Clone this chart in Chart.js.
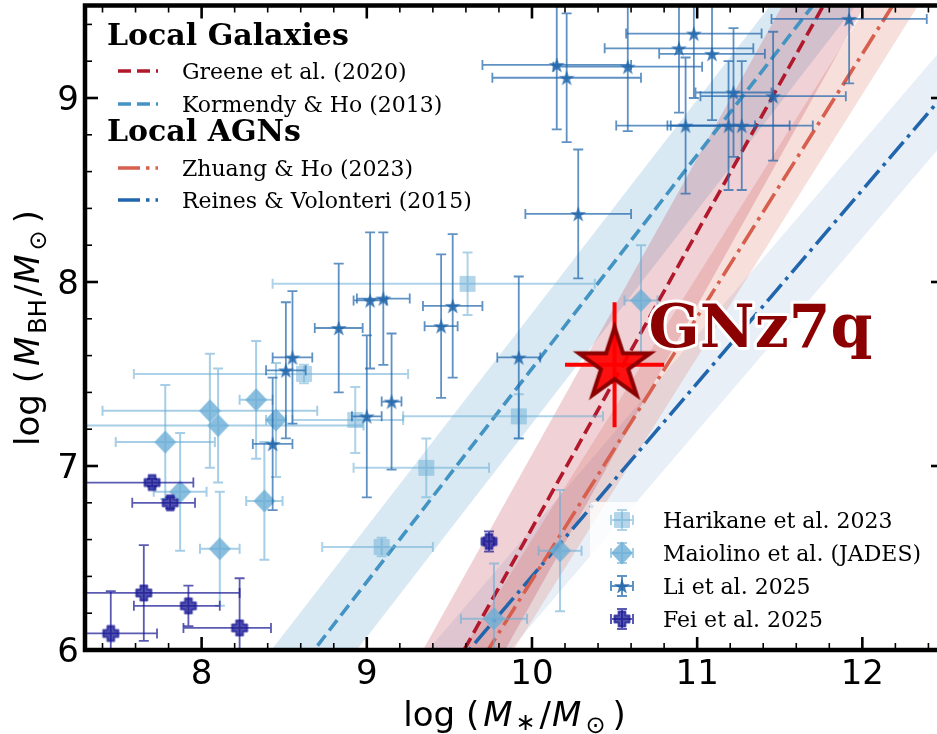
<!DOCTYPE html>
<html>
<head>
<meta charset="utf-8">
<script src="https://cdn.jsdelivr.net/npm/chart.js@4.4.1/dist/chart.umd.min.js"></script>
<style>
  html, body { margin: 0; padding: 0; background: #fff; }
  #wrap { width: 937px; height: 734px; position: relative; }
</style>
</head>
<body>
<div id="wrap"><canvas id="c"></canvas></div>
<script>
// axis ranges and ticks
const xRange = [7.294, 12.452];
const yRange = [6, 9.5];
const xTicks = [8, 9, 10, 11, 12];
const yTicks = [6, 7, 8, 9];

// local scaling relations: log MBH = a + b * (log M* - pivot), shaded +/- width
const relLabels = ['Greene et al. (2020)', 'Kormendy & Ho (2013)', 'Zhuang & Ho (2023)', 'Reines & Volonteri (2015)'];
const relA = [7.43, 8.69, 6.38, 7.45];
const relB = [1.61, 1.16, 1.43, 1.05];
const relPivot = [10.477, 11, 10, 11];
const relWidth = [0.40, 0.30, 0.22, 0.26];

// Harikane et al. 2023 (asymmetric x errors as [lo, hi])
const harikaneX = [9.61, 8.62, 8.93, 9.36, 9.09, 9.92];
const harikaneY = [7.99, 7.50, 7.25, 6.99, 6.56, 7.27];
const harikaneXErr = [[1.18, 0.77], [1.03, 0.63], [0.38, 0.29], [0.44, 0.38], [0.36, 0.31], [0.70, 0.51]];
const harikaneYErr = [0.17, 0.05, 0.18, 0.16, 0.05, 0.12];

// Maiolino et al. (JADES)
const maiolinoX = [7.78, 8.05, 8.10, 8.33, 8.45, 7.87, 8.38, 8.11, 10.66, 10.17, 9.77];
const maiolinoY = [7.13, 7.30, 7.22, 7.36, 7.25, 6.86, 6.81, 6.55, 7.90, 6.54, 6.17];
const maiolinoXErr = [0.30, 0.65, 0.88, 0.10, 0.06, 0.16, 0.11, 0.12, 0.10, 0.13, 0.20];
const maiolinoYErr = [0.31, 0.31, 0.31, 0.32, 0.31, 0.32, 0.32, 0.31, 0.30, 0.33, 0.30];

// Li et al. 2025
const liX = [8.43, 8.51, 8.55, 8.83, 9.02, 9.10, 9.00, 9.15, 9.45, 9.52, 9.92, 10.28,
             10.15, 10.21, 10.58, 10.89, 10.98, 11.09, 11.22, 11.46, 10.93, 11.19, 11.27, 11.92];
const liY = [7.12, 7.52, 7.59, 7.75, 7.90, 7.91, 7.27, 7.35, 7.76, 7.87, 7.59, 8.37,
             9.18, 9.11, 9.17, 9.27, 9.35, 9.24, 9.03, 9.01, 8.85, 8.85, 8.85, 9.43];
const liXErr = [0.12, 0.12, 0.12, 0.145, 0.10, 0.16, 0.09, 0.06, 0.10, 0.18, 0.13, 0.32,
                0.45, 0.45, 0.45, 0.45, 0.41, 0.32, 0.23, 0.44, 0.42, 0.37, 0.43, 0.47];
const liYErr = [0.36, 0.37, 0.36, 0.35, 0.37, 0.36, 0.44, 0.37, 0.39, 0.39, 0.44, 0.35,
                0.35, 0.35, 0.35, 0.35, 0.35, 0.36, 0.35, 0.35, 0.37, 0.35, 0.35, 0.35];

// Fei et al. 2025
const feiX = [7.70, 7.81, 7.65, 7.45, 7.92, 8.23, 9.74];
const feiY = [6.91, 6.80, 6.31, 6.09, 6.24, 6.12, 6.59];
const feiXErr = [[0.45, 0.25], [0.23, 0.15], [0.58, 0.58], [0.28, 0.28], [0.33, 0.19], [0.34, 0.19], [0.03, 0.03]];
const feiYErr = [0.02, 0.03, 0.26, 0.23, 0.11, 0.27, 0.055];

// GNz7q
const gnzX = [10.5];
const gnzY = [7.55];
const gnzXErr = [0.30];
const gnzYErr = [0.34];

const seriesLabels = ['Harikane et al. 2023', 'Maiolino et al. (JADES)', 'Li et al. 2025', 'Fei et al. 2025'];

// ---- styles ----
const relColor = ['#b2182b', '#4393c3', '#d6604d', '#2166ac'];
const relBand = ['rgba(178,24,43,0.2)', 'rgba(67,147,195,0.2)', 'rgba(214,96,77,0.2)', 'rgba(33,102,172,0.1)'];
const relDash = [[13, 6], [13, 6], [22, 6, 3.5, 6], [22, 6, 3.5, 6]];

const SERIF = '"DejaVu Serif", serif';
const SANS = '"DejaVu Sans", sans-serif';

function markerCanvas(size, draw) {
  const c = document.createElement('canvas');
  c.width = size; c.height = size;
  draw(c.getContext('2d'), size / 2);
  return c;
}
function starPath(ctx, cx, cy, R) {
  const r = R * 0.381966;
  ctx.beginPath();
  for (let k = 0; k < 10; k++) {
    const ang = -Math.PI / 2 + k * Math.PI / 5;
    const rr = k % 2 ? r : R;
    ctx.lineTo(cx + rr * Math.cos(ang), cy + rr * Math.sin(ang));
  }
  ctx.closePath();
}
function plusPath(ctx, cx, cy, h, t) {
  const p = [[-t, -h], [t, -h], [t, -t], [h, -t], [h, t], [t, t], [t, h], [-t, h], [-t, t], [-h, t], [-h, -t], [-t, -t]];
  ctx.beginPath();
  p.forEach(([dx, dy]) => ctx.lineTo(cx + dx, cy + dy));
  ctx.closePath();
}

const squareMark = markerCanvas(18, (g, c) => {
  g.fillStyle = 'rgba(107,174,214,0.5)';
  g.fillRect(c - 7.5, c - 7.5, 15, 15);
  g.strokeStyle = 'rgba(107,174,214,0.35)';
  g.lineWidth = 1;
  g.strokeRect(c - 7.5, c - 7.5, 15, 15);
});
const diamondMark = markerCanvas(26, (g, c) => {
  g.fillStyle = 'rgba(107,174,214,0.8)';
  g.beginPath();
  g.moveTo(c, c - 11.5); g.lineTo(c + 11, c); g.lineTo(c, c + 11.5); g.lineTo(c - 11, c);
  g.closePath(); g.fill();
});
const starMark = markerCanvas(20, (g, c) => {
  g.fillStyle = 'rgba(33,102,172,0.85)';
  starPath(g, c, c + 0.8, 8.4); g.fill();
});
const plusMark = markerCanvas(22, (g, c) => {
  g.fillStyle = 'rgba(26,26,150,0.75)';
  g.strokeStyle = 'rgba(26,26,150,0.75)';
  g.lineJoin = 'round';
  g.lineWidth = 2;
  plusPath(g, c, c, 7.5, 3.4); g.fill(); g.stroke();
});
const bigStar = markerCanvas(90, (g, c) => {
  g.fillStyle = 'rgba(255,0,0,0.92)';
  g.strokeStyle = '#8b0000';
  g.lineWidth = 4;
  g.lineJoin = 'miter';
  starPath(g, c, c, 37.5); g.fill(); g.stroke();
});

function pts(xs, ys) { return xs.map((x, k) => ({ x, y: ys[k] })); }

const datasets = [];
relA.forEach((a, i) => {
  const f = x => a + relB[i] * (x - relPivot[i]);
  datasets.push({ type: 'line', data: xRange.map(x => ({ x, y: f(x) + relWidth[i] })),
    fill: '+1', backgroundColor: relBand[i], borderWidth: 0, pointRadius: 0, order: 20 });
  datasets.push({ type: 'line', data: xRange.map(x => ({ x, y: f(x) - relWidth[i] })),
    fill: false, borderWidth: 0, pointRadius: 0, order: 20 });
});
relA.forEach((a, i) => {
  const f = x => a + relB[i] * (x - relPivot[i]);
  datasets.push({ type: 'line', data: xRange.map(x => ({ x, y: f(x) })),
    borderColor: relColor[i], borderWidth: 3.6, borderDash: relDash[i], borderCapStyle: 'butt',
    fill: false, pointRadius: 0, order: 10 });
});
datasets.push({ type: 'scatter', data: pts(harikaneX, harikaneY), pointStyle: squareMark, pointRadius: 6,
  errX: harikaneXErr, errY: harikaneYErr, errColor: 'rgba(107,174,214,0.55)', errWidth: 2, cap: 5, order: 6 });
datasets.push({ type: 'scatter', data: pts(maiolinoX, maiolinoY), pointStyle: diamondMark, pointRadius: 6,
  errX: maiolinoXErr, errY: maiolinoYErr, errColor: 'rgba(107,174,214,0.6)', errWidth: 2, cap: 5, order: 5 });
datasets.push({ type: 'scatter', data: pts(liX, liY), pointStyle: starMark, pointRadius: 6,
  errX: liXErr, errY: liYErr, errColor: 'rgba(33,102,172,0.72)', errWidth: 1.8, cap: 5, order: 4 });
datasets.push({ type: 'scatter', data: pts(feiX, feiY), pointStyle: plusMark, pointRadius: 6,
  errX: feiXErr, errY: feiYErr, errColor: 'rgba(26,26,150,0.72)', errWidth: 1.8, cap: 5, order: 3 });
datasets.push({ type: 'scatter', data: pts(gnzX, gnzY), pointStyle: bigStar, pointRadius: 10,
  errX: gnzXErr, errY: gnzYErr, errColor: '#ff0000', errWidth: 4, cap: 0, order: 1 });

function errPair(e) { return Array.isArray(e) ? e : [e, e]; }

function drawErrBars(ctx, px, pyLo, pyHi, pxLo, pxHi, py, cap) {
  ctx.beginPath();
  ctx.moveTo(pxLo, py); ctx.lineTo(pxHi, py);
  ctx.moveTo(px, pyLo); ctx.lineTo(px, pyHi);
  if (cap > 0) {
    ctx.moveTo(pxLo, py - cap); ctx.lineTo(pxLo, py + cap);
    ctx.moveTo(pxHi, py - cap); ctx.lineTo(pxHi, py + cap);
    ctx.moveTo(px - cap, pyLo); ctx.lineTo(px + cap, pyLo);
    ctx.moveTo(px - cap, pyHi); ctx.lineTo(px + cap, pyHi);
  }
  ctx.stroke();
}

const errorBars = {
  id: 'errorBars',
  beforeDatasetDraw(chart, args) {
    const ds = chart.data.datasets[args.index];
    if (!ds.errX) return;
    const { ctx, chartArea: a, scales: { x, y } } = chart;
    ctx.save();
    ctx.beginPath();
    ctx.rect(a.left, a.top, a.right - a.left, a.bottom - a.top);
    ctx.clip();
    ctx.strokeStyle = ds.errColor;
    ctx.lineWidth = ds.errWidth;
    ds.data.forEach((p, k) => {
      const [xl, xh] = errPair(ds.errX[k]);
      const [yl, yh] = errPair(ds.errY[k]);
      drawErrBars(ctx, x.getPixelForValue(p.x),
        y.getPixelForValue(p.y - yl), y.getPixelForValue(p.y + yh),
        x.getPixelForValue(p.x - xl), x.getPixelForValue(p.x + xh),
        y.getPixelForValue(p.y), ds.cap);
    });
    ctx.restore();
  }
};

// rich text run: parts of {t, font, dy, gap}
function drawRuns(ctx, parts, x, y, align) {
  let w = 0;
  parts.forEach(p => { ctx.font = p.font; w += ctx.measureText(p.t).width + (p.gap || 0); });
  let cx = align === 'center' ? x - w / 2 : x;
  ctx.textAlign = 'left';
  ctx.textBaseline = 'alphabetic';
  parts.forEach(p => {
    ctx.font = p.font;
    ctx.fillText(p.t, cx, y + (p.dy || 0));
    cx += ctx.measureText(p.t).width + (p.gap || 0);
  });
}

const annotations = {
  id: 'annotations',
  afterDatasetsDraw(chart) {
    const { ctx, scales: { x, y } } = chart;
    ctx.save();
    // GNz7q label
    const sx = x.getPixelForValue(gnzX[0]), sy = y.getPixelForValue(gnzY[0]);
    ctx.font = 'bold 60px ' + SERIF;
    ctx.textAlign = 'left';
    ctx.textBaseline = 'alphabetic';
    ctx.lineJoin = 'round';
    ctx.strokeStyle = '#fff';
    ctx.lineWidth = 6;
    ctx.strokeText('GNz7q', sx + 34, sy - 18);
    ctx.fillStyle = '#8b0000';
    ctx.fillText('GNz7q', sx + 34, sy - 18);

    // relations legend
    ctx.fillStyle = '#000';
    ctx.font = 'bold 30px ' + SERIF;
    ctx.fillText('Local Galaxies', 107, 45);
    ctx.fillText('Local AGNs', 107, 141);
    const rowY = [71, 104, 168, 200];
    rowY.forEach((ry, i) => {
      ctx.save();
      ctx.strokeStyle = relColor[i];
      ctx.lineWidth = 3.6;
      ctx.setLineDash(relDash[i]);
      ctx.beginPath(); ctx.moveTo(118, ry); ctx.lineTo(158, ry); ctx.stroke();
      ctx.restore();
      ctx.font = '22px ' + SERIF;
      ctx.fillStyle = '#000';
      ctx.fillText(relLabels[i], 182, ry + 8);
    });

    // samples legend
    ctx.fillStyle = 'rgba(255,255,255,0.8)';
    ctx.beginPath();
    ctx.roundRect(590, 502, 345, 140, 4);
    ctx.fill();
    const marks = [squareMark, diamondMark, starMark, plusMark];
    const cols = ['rgba(107,174,214,0.55)', 'rgba(107,174,214,0.6)', 'rgba(33,102,172,0.72)', 'rgba(26,26,150,0.72)'];
    seriesLabels.forEach((lab, i) => {
      const cy = 520 + 33 * i, cx = 622;
      ctx.strokeStyle = cols[i];
      ctx.lineWidth = 2;
      drawErrBars(ctx, cx, cy + 10, cy - 10, cx - 11, cx + 11, cy, 5);
      ctx.drawImage(marks[i], cx - marks[i].width / 2, cy - marks[i].height / 2);
      ctx.font = '22px ' + SERIF;
      ctx.fillStyle = '#000';
      ctx.fillText(lab, 663, cy + 8);
    });
    ctx.restore();
  }
};

const frame = {
  id: 'frame',
  afterDraw(chart) {
    const { ctx, chartArea: a, scales: { x, y } } = chart;
    const left = a.left, bottom = a.bottom, top = a.top - 0.5;
    const right = x.getPixelForValue(x.max) + 7;
    ctx.save();
    ctx.strokeStyle = '#000';
    ctx.lineCap = 'butt';
    const tick = (x0, y0, x1, y1, w) => { ctx.lineWidth = w; ctx.beginPath(); ctx.moveTo(x0, y0); ctx.lineTo(x1, y1); ctx.stroke(); };
    for (let k = 37; k <= 62; k++) {
      const v = k / 5, px = x.getPixelForValue(v);
      const major = k % 5 === 0, len = major ? 13 : 7, w = major ? 2.6 : 1.6;
      tick(px, bottom, px, bottom - len, w);
      tick(px, top, px, top + len, w);
    }
    for (let k = 30; k <= 47; k++) {
      const v = k / 5, py = y.getPixelForValue(v);
      const major = k % 5 === 0, len = major ? 13 : 7, w = major ? 2.6 : 1.6;
      tick(left, py, left + len, py, w);
      tick(right, py, right - len, py, w);
    }
    // spines
    ctx.lineWidth = 4.5;
    ctx.beginPath();
    ctx.moveTo(right, top); ctx.lineTo(left, top); ctx.lineTo(left, bottom); ctx.lineTo(right, bottom);
    ctx.stroke();

    // tick labels
    ctx.fillStyle = '#000';
    ctx.font = '34px ' + SANS;
    ctx.textBaseline = 'alphabetic';
    ctx.textAlign = 'center';
    xTicks.forEach(v => ctx.fillText(String(v), x.getPixelForValue(v), 683.5));
    ctx.textAlign = 'right';
    yTicks.forEach(v => ctx.fillText(String(v), 79, y.getPixelForValue(v) + 12.4));

    // axis titles
    const big = '34px ' + SANS, ital = 'oblique 34px ' + SANS, small = '24px ' + SANS;
    const midX = (left + right) / 2, midY = (a.top + a.bottom) / 2;
    drawRuns(ctx, [
      { t: 'log (', font: big, gap: 4 }, { t: 'M', font: ital, gap: 3 }, { t: '\u2217', font: small, dy: 4, gap: 4 },
      { t: '/', font: big, gap: 1 }, { t: 'M', font: ital, gap: 4 }, { t: '\u2299', font: small, dy: 7, gap: 7 }, { t: ')', font: big }
    ], midX, 726, 'center');
    ctx.save();
    ctx.translate(39, midY);
    ctx.rotate(-Math.PI / 2);
    drawRuns(ctx, [
      { t: 'log (', font: big, gap: 4 }, { t: 'M', font: ital, gap: 3 }, { t: 'BH', font: small, dy: 7, gap: 3 },
      { t: '/', font: big, gap: 1 }, { t: 'M', font: ital, gap: 4 }, { t: '\u2299', font: small, dy: 7, gap: 7 }, { t: ')', font: big }
    ], 0, 0, 'center');
    ctx.restore();
    ctx.restore();
  }
};

new Chart(document.getElementById('c'), {
  type: 'scatter',
  data: { datasets },
  options: {
    responsive: true,
    maintainAspectRatio: false,
    animation: false,
    events: [],
    layout: { autoPadding: false, padding: { left: 85, top: 6, right: 0, bottom: 84 } },
    scales: {
      x: { type: 'linear', min: xRange[0], max: xRange[1], display: false },
      y: { type: 'linear', min: yRange[0], max: yRange[1], display: false }
    },
    plugins: { legend: { display: false }, tooltip: { enabled: false } }
  },
  plugins: [errorBars, annotations, frame]
});
</script>
</body>
</html>
